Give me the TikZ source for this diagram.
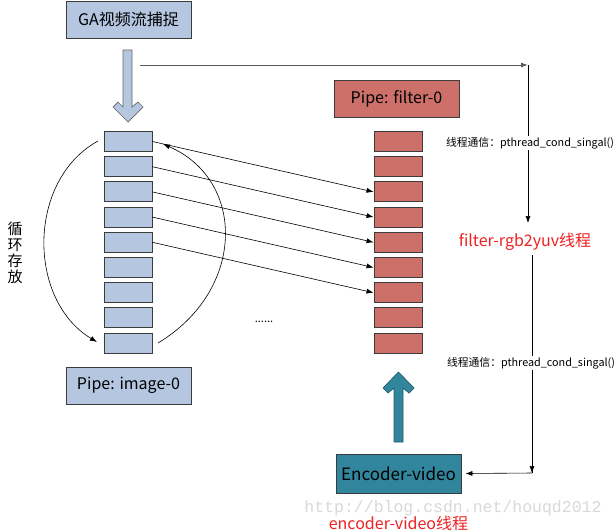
\documentclass[tikz,border=0pt]{standalone}
\usepackage{fontspec}
\setmainfont{Noto Sans CJK SC}
\newfontfamily\wmfont{Liberation Mono}
\usetikzlibrary{arrows.meta}
\definecolor{slotblue}{HTML}{B4C6E0}
\definecolor{slotred}{HTML}{CD7069}
\definecolor{tealbox}{HTML}{31859C}
\definecolor{edgegray}{HTML}{3C3C3C}
\definecolor{redtxt}{HTML}{EE2222}
\begin{document}
\begin{tikzpicture}[x=1pt,y=-1pt,
  box/.style={draw=edgegray,line width=0.9pt,minimum width=125pt,minimum height=37pt,inner sep=0pt,font=\fontsize{16}{18}\selectfont},
  slot/.style={draw=edgegray,line width=0.9pt,minimum width=48pt,minimum height=20pt,inner sep=0pt},
  arr/.style={-{Latex[length=7pt,width=5pt]},line width=0.6pt},
  lbl/.style={fill=white,inner sep=1pt,font=\fontsize{10.8}{12}\selectfont},
  redlbl/.style={text=redtxt,font=\fontsize{16}{18}\selectfont,inner sep=0pt}]
\useasboundingbox[fill=white] (0,0) rectangle (615,531);

% boxes
\node[box,fill=slotblue] (ga) at (128.5,19.5) {GA视频流捕捉};
\node[box,fill=slotblue] (img) at (128.5,385.5) {Pipe: image-0};
\node[box,fill=slotred] (flt) at (396.5,98.5) {Pipe: filter-0};
\node[box,fill=tealbox,minimum height=39pt,font=\fontsize{17}{19}\selectfont] (enc) at (398.5,473.5) {Encoder-video};

% slots
\foreach \i in {0,...,8}{
  \node[slot,fill=slotblue] (b\i) at (128,141.5+25.2*\i) {};
  \node[slot,fill=slotred] (r\i) at (398,141.5+25.2*\i) {};
}

% block arrows
\draw[draw=gray!80!black,fill=slotblue,line width=0.7pt]
  (123,50) -- (132,50) -- (132,107) -- (138,102) -- (143,107) -- (128,122)
  -- (113,107) -- (118,102) -- (123,107) -- cycle;
\draw[draw=tealbox!70!black,fill=tealbox,line width=0.7pt]
  (394,442) -- (403,442) -- (403,388) -- (409,393) -- (414,388) -- (398.5,372)
  -- (383,388) -- (388,393) -- (394,388) -- cycle;

% slot connectors
\foreach \i [evaluate=\i as \j using int(\i+2)] in {0,...,4}{
  \draw[arr] (b\i.east) -- (r\j.west);
}

% circular arcs
\coordinate (la) at (98,141);
\coordinate (lb) at (97,342);
\coordinate (ra) at (158,343);
\coordinate (rb) at (163,144);
\draw[arr] (la) .. controls (27,180) and (27,300) .. (lb);
\draw[arr] (ra) .. controls (246,290) and (246,180) .. (rb);

% vertical text
\node[font=\fontsize{15}{16}\selectfont,align=center,inner sep=0pt] (xh) at (15,253) {循\\环\\存\\放};

% dots
\node[font=\fontsize{11}{12}\selectfont,inner sep=0pt] (dots) at (264,322) {......};

% signal lines
\coordinate (ts) at (140,65);
\coordinate (tc) at (528,65);
\coordinate (te) at (528,223);
\coordinate (ms) at (532,255);
\coordinate (me) at (532,473);
\draw[line width=1pt,draw=gray!70!black,-{Latex[length=7pt,width=5pt]}] (ts) -- (tc);
\draw[arr] (tc) -- (te);
\draw[line width=0.6pt] (ms) -- (me);
\draw[arr] (532,466) -- (me);
\draw[arr] (me) -- ([xshift=4pt]enc.east);

\node[lbl] (sig1) at (530,143) {线程通信：pthread\_cond\_singal()};
\node[lbl] (sig2) at (531,363) {线程通信：pthread\_cond\_singal()};
\node[redlbl] (rgb) at (525,242) {filter-rgb2yuv线程};

% watermark
\node[text=gray!30,font=\wmfont\fontsize{16.5}{18}\selectfont,inner sep=0pt] (wm) at (453,508) {http://blog.csdn.net/houqd2012};
\node[redlbl] (encl) at (398.5,523) {encoder-video线程};
\end{tikzpicture}
\end{document}
